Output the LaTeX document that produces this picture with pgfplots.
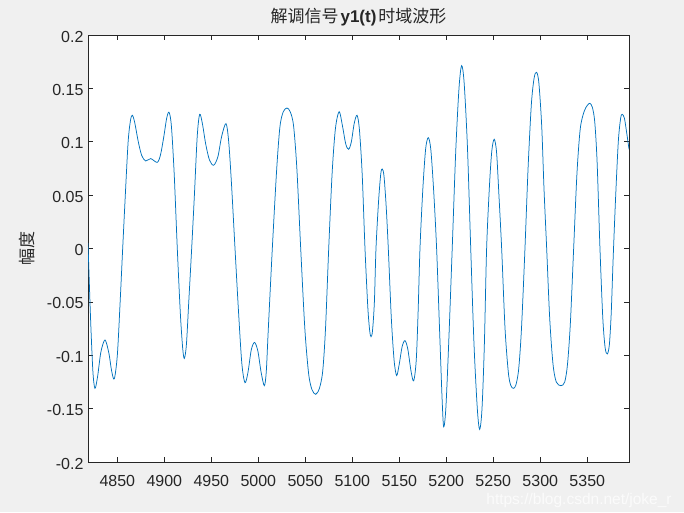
\documentclass[border=0pt]{standalone}
\usepackage{pgfplots}
\pgfplotsset{compat=1.18}
\usepackage{fontspec}
\setmainfont{Liberation Sans}
\newfontfamily\cjk{Noto Sans CJK SC}
\definecolor{figbg}{RGB}{240,240,240}
\definecolor{axc}{RGB}{38,38,38}
\definecolor{mblue}{RGB}{0,114,189}
\begin{document}
\begin{tikzpicture}[x=1pt,y=1pt]
\fill[figbg] (0,0) rectangle (684,512);
\node[text=white!97!gray, inner sep=0pt, font=\fontsize{15.5}{17}\selectfont] at (579,12) {https://blog.csdn.net/joke\_r};
\begin{axis}[
  at={(88pt,50pt)}, anchor=south west,
  scale only axis, width=541pt, height=427pt,
  xmin=4818.8, xmax=5394.4, ymin=-0.2, ymax=0.2,
  axis background/.style={fill=white},
  axis line style={axc, line width=0.6pt},
  tick style={axc, line width=0.6pt},
  major tick length=5pt,
  tick align=inside,
  xtick={4850,4900,4950,5000,5050,5100,5150,5200,5250,5300,5350},
  xticklabels={4850,4900,4950,5000,5050,5100,5150,5200,5250,5300,5350},
  ytick={-0.2,-0.15,-0.1,-0.05,0,0.05,0.1,0.15,0.2},
  yticklabels={-0.2,-0.15,-0.1,-0.05,0,0.05,0.1,0.15,0.2},
  ticklabel style={font=\fontsize{16}{18}\selectfont, text=axc},
  xticklabel style={inner sep=0pt, yshift=-13pt},
  yticklabel style={xshift=-1pt, yshift=-1.5pt},
  title={{\cjk 解调信号}\hspace{2pt}\textbf{y1(t)}\hspace{2pt}{\cjk 时域波形}},
  title style={font=\fontsize{17}{18}\selectfont, text=axc, at={(0.5,1)}, anchor=south, yshift=-1pt},
  ylabel={\cjk 幅度},
  ylabel style={font=\fontsize{17}{18}\selectfont, text=axc, at={(axis description cs:-0.1135,0.5)}, anchor=center},
]
\addplot[mblue, line width=0.75pt, smooth, tension=0.5] coordinates {
(4818.8,0.005) (4821.5,-0.065) (4824,-0.115) (4826.2,-0.131) (4829,-0.12) (4832.5,-0.097) (4836.9,-0.0857)
(4841,-0.098) (4844,-0.115) (4846.8,-0.122) (4850,-0.1) (4853,-0.05) (4855.7,0) (4858.5,0.05) (4861.5,0.1)
(4864,0.12) (4866,0.1248) (4868.5,0.118) (4872.3,0.1) (4876,0.087) (4880.2,0.082) (4885.5,0.0842) (4892.5,0.0807)
(4896,0.088) (4899.5,0.105) (4902.5,0.122) (4905,0.1276) (4907.5,0.115) (4910.5,0.07) (4913.8,0) (4917,-0.06)
(4919.5,-0.093) (4921.3,-0.103) (4923.5,-0.09) (4926,-0.05) (4929.1,0) (4932,0.05) (4935,0.105) (4937.6,0.1257)
(4940.5,0.117) (4944,0.098) (4948,0.083) (4952.5,0.078) (4957,0.086) (4961,0.105) (4965.6,0.117) (4968.5,0.1)
(4971.5,0.06) (4975.2,0) (4979,-0.06) (4982.5,-0.108) (4985.8,-0.1257) (4989,-0.116) (4992.5,-0.095) (4996,-0.088)
(4999.5,-0.096) (5003,-0.116) (5006.4,-0.1285) (5008.5,-0.115) (5010.6,-0.076) (5014.9,0) (5019.5,0.0735) (5023,0.114)
(5026.5,0.128) (5030.5,0.1316) (5034,0.128) (5037.5,0.115) (5041,0.075) (5045.1,0) (5049.5,-0.075) (5053.5,-0.117)
(5057,-0.132) (5061,-0.1366) (5065,-0.131) (5068.5,-0.115) (5071.5,-0.075) (5074.9,0) (5078.5,0.07) (5082,0.112)
(5086,0.1282) (5089.5,0.115) (5093,0.098) (5096.1,0.0929) (5099,0.1) (5102,0.117) (5105,0.1248) (5107.5,0.112)
(5110.5,0.07) (5113.5,0) (5116.5,-0.055) (5118.5,-0.077) (5119.9,-0.0826) (5121.5,-0.077) (5123.5,-0.05) (5125.2,0)
(5128,0.045) (5130.3,0.07) (5131.9,0.0745) (5133.7,0.068) (5136,0.04) (5138.3,0) (5141.5,-0.065) (5144.5,-0.105)
(5147.2,-0.119) (5150,-0.108) (5153,-0.092) (5156,-0.0863) (5159,-0.094) (5162.5,-0.115) (5165.3,-0.124) (5168,-0.105)
(5170,-0.06) (5172,0) (5175,0.055) (5178,0.093) (5180.8,0.1038) (5183.5,0.093) (5186.5,0.055) (5189.7,0)
(5193,-0.08) (5195.5,-0.14) (5197.2,-0.167) (5199.5,-0.15) (5202.5,-0.09) (5206.3,0) (5210,0.09) (5213.5,0.15)
(5216.3,0.1713) (5219,0.155) (5222.5,0.095) (5226,0) (5229.5,-0.09) (5233,-0.15) (5235.5,-0.1694) (5238,-0.15)
(5240.5,-0.09) (5242.9,0) (5246,0.06) (5248.5,0.092) (5251,0.1023) (5253.5,0.09) (5256,0.05) (5258.9,0)
(5262.5,-0.075) (5266,-0.116) (5268.5,-0.128) (5271.3,-0.131) (5274,-0.128) (5277,-0.113) (5280,-0.075) (5283.7,0)
(5287,0.075) (5290.5,0.135) (5293.5,0.16) (5296.1,0.165) (5298.5,0.155) (5301.5,0.115) (5304,0.055) (5306.8,0)
(5310,-0.065) (5313.5,-0.108) (5317,-0.125) (5322,-0.1285) (5326,-0.125) (5329,-0.108) (5332,-0.07) (5335.5,0)
(5339,0.07) (5342.5,0.112) (5346.5,0.128) (5350,0.134) (5352.8,0.136) (5355.5,0.132) (5358,0.118) (5360.5,0.08)
(5363.5,0) (5366.5,-0.065) (5369,-0.093) (5371.3,-0.0988) (5373.5,-0.09) (5375.5,-0.06) (5377.5,-0.01) (5380,0.045)
(5383,0.1) (5385.5,0.122) (5387.2,0.1257) (5389.5,0.122) (5392,0.108) (5394.4,0.093)
};
\end{axis}
\end{tikzpicture}
\end{document}
